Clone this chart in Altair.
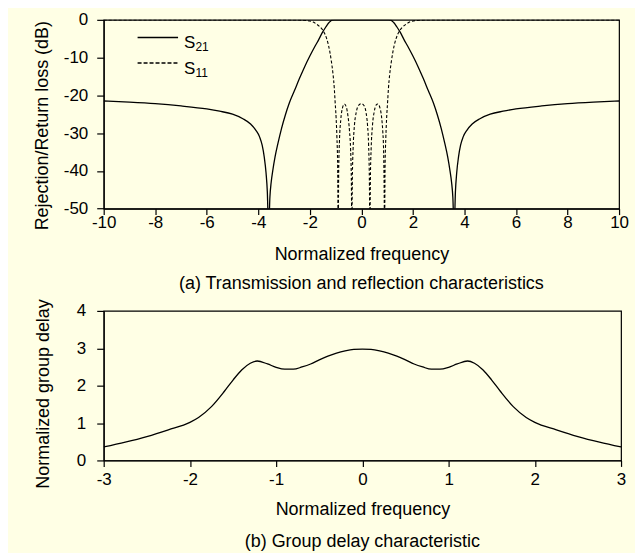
import altair as alt
import pandas as pd

FONT = "Liberation Sans"
BG = "#FFFFE5"

# ---- (a) Transmission / reflection ----
f21 = [-10, -9, -8, -7, -6, -5.5, -5, -4.6, -4.3, -4.1,
       -3.95, -3.85, -3.77, -3.7, -3.65, -3.6, -3.55, -3.5, -3.44, -3.35,
       -3.24, -3.1, -2.95, -2.8, -2.6, -2.4, -2.2, -2.0, -1.8, -1.66,
       -1.5, -1.38, -1.28, -1.2, -1.14, -1.05, -0.8, -0.4,
       0,
       0.4, 0.8, 1.05, 1.14, 1.2, 1.28, 1.38, 1.5,
       1.66, 1.8, 2.0, 2.2, 2.4, 2.6, 2.8, 2.95, 3.1, 3.24,
       3.35, 3.44, 3.5, 3.55, 3.6, 3.65, 3.7, 3.77, 3.85, 3.95,
       4.1, 4.3, 4.6, 5, 5.5, 6, 7, 8, 9, 10]
s21 = [-21.5, -21.8, -22.2, -22.8, -23.6, -24.2, -25.0, -26.2, -27.6, -29.2,
       -31.0, -33.2, -36.3, -40.5, -45.5, -56, -47, -43, -40, -36.3,
       -32.8, -28.8, -25.2, -22.1, -18.8, -15.5, -12.4, -9.6, -7.0, -5.3,
       -3.2, -1.9, -0.9, -0.35, -0.1, -0.02, 0, 0,
       0,
       0, 0, -0.02, -0.1, -0.35, -0.9, -1.9, -3.2,
       -5.3, -7.0, -9.6, -12.4, -15.5, -18.8, -22.1, -25.2, -28.8, -32.8,
       -36.3, -40, -43, -47, -56, -45.5, -40.5, -36.3, -33.2, -31.0,
       -29.2, -27.6, -26.2, -25.0, -24.2, -23.6, -22.8, -22.2, -21.8, -21.5]

f11 = [-10, -6, -3, -2.6, -2.3, -2.1, -2.0, -1.87, -1.75, -1.6,
       -1.5, -1.42, -1.35, -1.28, -1.22, -1.16, -1.1, -1.05, -1.02, -0.98,
       -0.95, -0.92, -0.9, -0.88, -0.85, -0.8, -0.74, -0.66, -0.58, -0.52,
       -0.46, -0.42, -0.39, -0.37, -0.35, -0.32, -0.27, -0.2, -0.1, 0,
       0.1, 0.18, 0.24, 0.28, 0.31, 0.33, 0.35, 0.38, 0.43, 0.5,
       0.57, 0.64, 0.72, 0.78, 0.83, 0.86, 0.88, 0.9, 0.92, 0.95,
       0.98, 1.02, 1.05, 1.1, 1.16, 1.22, 1.28, 1.35, 1.42, 1.5,
       1.6, 1.75, 1.87, 2.0, 2.1, 2.3, 2.6, 3, 6, 10]
s11 = [0, 0, -0.01, -0.03, -0.1, -0.2, -0.3, -0.6, -1.1, -1.9,
       -2.7, -3.7, -4.9, -6.6, -8.6, -11.2, -14.4, -18.2, -21.6, -26,
       -31, -39, -56, -40, -32, -26.5, -23.5, -22.3, -23.2, -25.5,
       -29.5, -34, -42, -56, -42, -34, -28, -24.5, -22.6, -22.2,
       -22.7, -24.5, -28, -33, -42, -56, -42, -34, -28, -24.3,
       -22.6, -22.3, -23.3, -25.5, -29.5, -34, -42, -56, -39, -31,
       -26, -21.6, -18.2, -14.4, -11.2, -8.6, -6.6, -4.9, -3.7, -2.7,
       -1.9, -1.1, -0.6, -0.3, -0.2, -0.1, -0.03, -0.01, 0, 0]

top_xticks = [-10, -8, -6, -4, -2, 0, 2, 4, 6, 8, 10]
top_yticks = [-50, -40, -30, -20, -10, 0]

# ---- (b) Group delay ----
fg = [-3, -2.75, -2.5, -2.25, -2.0, -1.9, -1.75, -1.6, -1.5, -1.4,
      -1.3, -1.22, -1.1, -1.0, -0.9, -0.8, -0.7, -0.6, -0.5, -0.4,
      -0.3, -0.2, -0.1, 0, 0.1, 0.2, 0.3, 0.4, 0.5, 0.6,
      0.7, 0.8, 0.9, 1.0, 1.1, 1.22, 1.3, 1.4, 1.5, 1.6,
      1.75, 1.9, 2.0, 2.25, 2.5, 2.75, 3]
gd = [0.36, 0.49, 0.64, 0.82, 1.02, 1.15, 1.44, 1.85, 2.15, 2.42,
      2.6, 2.66, 2.58, 2.49, 2.44, 2.44, 2.5, 2.58, 2.69, 2.79,
      2.87, 2.93, 2.97, 2.98, 2.97, 2.93, 2.87, 2.79, 2.69, 2.58,
      2.5, 2.44, 2.44, 2.49, 2.58, 2.66, 2.6, 2.42, 2.15, 1.85,
      1.44, 1.15, 1.02, 0.82, 0.64, 0.49, 0.36]
bot_xticks = [-3, -2, -1, 0, 1, 2, 3]
bot_yticks = [0, 1, 2, 3, 4]

legend_main = ["S", "S"]
legend_sub = ["21", "11"]

df21 = pd.DataFrame({"f": f21, "db": s21})
df11 = pd.DataFrame({"f": f11, "db": s11})
dfg = pd.DataFrame({"f": fg, "gd": gd})
one = pd.DataFrame({"k": [0]})

LBL = "toString(datum.value)"

xt = alt.X("f:Q", scale=alt.Scale(domain=[-10, 10], nice=False, zero=False),
           axis=alt.Axis(values=top_xticks, title="Normalized frequency", labelExpr=LBL,
                         tickSize=6, labelPadding=0, titlePadding=15,
                         labelFlush=False, labelOverlap=False))
yt = alt.Y("db:Q", scale=alt.Scale(domain=[-50, 0], nice=False, zero=False),
           axis=alt.Axis(values=top_yticks, title="Rejection/Return loss (dB)", labelExpr=LBL,
                         tickSize=7, labelPadding=9, titlePadding=12, titleY=105.7,
                         labelOverlap=False))

l21 = alt.Chart(df21).mark_line(color="black", strokeWidth=1.3, clip=True,
                                interpolate="monotone").encode(x=xt, y=yt)
l11 = alt.Chart(df11).mark_line(color="black", strokeWidth=1.1, strokeDash=[3, 2], clip=True,
                                interpolate="monotone").encode(x=xt, y=yt)

leg_r1 = alt.Chart(one).mark_rule(color="black", strokeWidth=1.5).encode(
    x=alt.value(34), x2=alt.value(74.6), y=alt.value(17.7))
leg_r2 = alt.Chart(one).mark_rule(color="black", strokeWidth=1.5, strokeDash=[4, 2]).encode(
    x=alt.value(34), x2=alt.value(74.6), y=alt.value(43.4))
leg_t1 = alt.Chart(one).mark_text(text=legend_main[0], align="left", baseline="alphabetic",
                                  fontSize=17, font=FONT, color="black").encode(
    x=alt.value(80.6), y=alt.value(28.7))
leg_s1 = alt.Chart(one).mark_text(text=legend_sub[0], align="left", baseline="alphabetic",
                                  fontSize=12, font=FONT, color="black").encode(
    x=alt.value(92), y=alt.value(31.5))
leg_t2 = alt.Chart(one).mark_text(text=legend_main[1], align="left", baseline="alphabetic",
                                  fontSize=17, font=FONT, color="black").encode(
    x=alt.value(80.6), y=alt.value(54.4))
leg_s2 = alt.Chart(one).mark_text(text=legend_sub[1], align="left", baseline="alphabetic",
                                  fontSize=12, font=FONT, color="black").encode(
    x=alt.value(92), y=alt.value(57.2))

top = alt.layer(l21, l11, leg_r1, leg_r2, leg_t1, leg_s1, leg_t2, leg_s2).properties(
    width=517, height=189.4,
    title=alt.TitleParams(text="(a) Transmission and reflection characteristics", orient="bottom",
                          fontSize=18, font=FONT, fontWeight="normal", color="black",
                          offset=12, anchor="middle"))

xb = alt.X("f:Q", scale=alt.Scale(domain=[-3, 3], nice=False, zero=False),
           axis=alt.Axis(values=bot_xticks, title="Normalized frequency", labelExpr=LBL,
                         tickSize=6, labelPadding=5, titlePadding=13,
                         labelFlush=False, labelOverlap=False))
yb = alt.Y("gd:Q", scale=alt.Scale(domain=[0, 4], nice=False, zero=False),
           axis=alt.Axis(values=bot_yticks, title="Normalized group delay", labelExpr=LBL,
                         tickSize=7, labelPadding=11, titlePadding=24, titleY=82.8,
                         labelOverlap=False))

bottom = alt.Chart(dfg).mark_line(color="black", strokeWidth=1.3, clip=True,
                                  interpolate="monotone").encode(x=xb, y=yb).properties(
    width=519, height=150,
    title=alt.TitleParams(text="(b) Group delay characteristic", orient="bottom",
                          fontSize=18, font=FONT, fontWeight="normal", color="black",
                          offset=15, anchor="middle"))

chart = alt.vconcat(top, bottom, spacing=4).configure(
    background=BG, font=FONT,
    padding={"left": 24, "top": 1, "right": 5, "bottom": 0},
).configure_view(stroke="black", strokeWidth=1.2).configure_axis(
    domainColor="black", domainWidth=1.2, tickColor="black", tickWidth=1.2,
    labelColor="black", titleColor="black", labelFont=FONT, titleFont=FONT,
    labelFontSize=17, titleFontSize=18, titleFontWeight="normal", grid=False)

chart.save("out.html", embed_options={"renderer": "svg", "actions": False})
